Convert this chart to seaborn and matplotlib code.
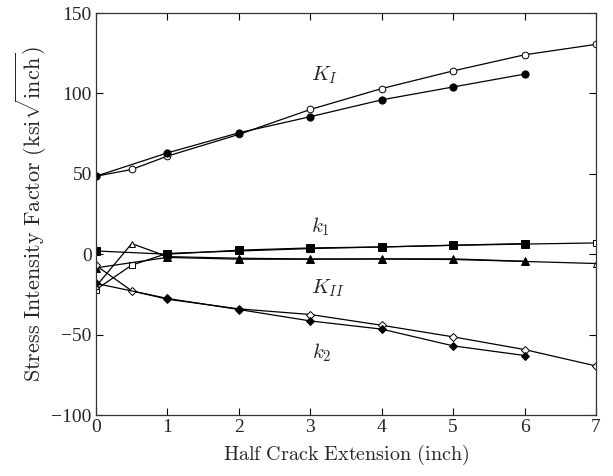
import matplotlib
matplotlib.use("Agg")
import matplotlib.pyplot as plt
import seaborn as sns
import pandas as pd

# Half crack extension (inch)
x_open = [0, 0.5, 1, 2, 3, 4, 5, 6, 7]
x_filled = [0, 1, 2, 3, 4, 5, 6]

# Stress intensity factors (ksi*sqrt(inch))
KI_open = [48.5, 52.7, 61, 74.5, 90, 103, 114, 124, 130.5]
KI_filled = [48.5, 63, 75.5, 85.5, 96, 104, 112]
k1_open = [-22, -6.8, 0.5, 2, 3.5, 4.5, 5.5, 6.3, 7]
k1_filled = [2, 0, 2.5, 3.9, 4.5, 5.6, 6.6]
KII_open = [-20, 6.6, -1.5, -2.5, -3, -3, -3.3, -4.5, -5.8]
KII_filled = [-8.5, -2, -3.1, -3.1, -2.9, -2.9, -4.4]
k2_open = [-7, -22.8, -28, -34, -37.5, -44.2, -51.4, -59.3, -69.5]
k2_filled = [-18.2, -27.5, -34.4, -41.5, -46.6, -57, -63]

series_labels = [r"$K_I$", r"$k_1$", r"$K_{II}$", r"$k_2$"]
label_x = [3.2, 3.14, 3.25, 3.16]
label_y = [111, 17, -21, -61]

x_ticks = [0, 1, 2, 3, 4, 5, 6, 7]
y_ticks = [-100, -50, 0, 50, 100, 150]

sns.set_style("ticks")
plt.rcParams["mathtext.fontset"] = "cm"
plt.rcParams["font.family"] = ["Liberation Serif", "DejaVu Serif"]

fig = plt.figure(figsize=(6.13, 4.76), dpi=100)
ax = fig.add_axes([96 / 613, 1 - 415 / 476, 500 / 613, 402 / 476])

groups = [
    (KI_open, "o", "open"), (KI_filled, "o", "filled"),
    (k1_open, "s", "open"), (k1_filled, "s", "filled"),
    (KII_open, "^", "open"), (KII_filled, "^", "filled"),
    (k2_open, "D", "open"), (k2_filled, "D", "filled"),
]

for vals, mk, fill in groups:
    xs = x_open if fill == "open" else x_filled
    df = pd.DataFrame({"x": xs, "y": vals})
    size = 4.8 if mk != "D" else 4.0
    sns.lineplot(
        data=df, x="x", y="y", ax=ax, color="black", linewidth=0.9,
        marker=mk, markersize=size if fill == "open" else size + 0.4,
        markerfacecolor="white" if fill == "open" else "black",
        markeredgecolor="black", markeredgewidth=0.7,
        estimator=None, sort=False,
    )

for t, lx, ly in zip(series_labels, label_x, label_y):
    ax.text(lx, ly, t, fontsize=15, ha="center", va="center")

ax.set_xlim(0, 7)
ax.set_ylim(-100, 150)
ax.set_xticks(x_ticks)
ax.set_yticks(y_ticks)
ax.set_xticklabels([str(v) for v in x_ticks])
ax.set_yticklabels([str(v).replace("-", "\u2212") for v in y_ticks])
ax.tick_params(direction="in", length=5, width=0.8, top=True, right=True,
               labelsize=14, pad=3, color="black")
for s in ax.spines.values():
    s.set_linewidth(0.9)
    s.set_color("#333333")

ax.set_xlabel(r"$\mathrm{Half\ Crack\ Extension\ (inch)}$", fontsize=14.5, labelpad=5)
ax.set_ylabel(r"$\mathrm{Stress\ Intensity\ Factor\ (ksi}\sqrt{\mathrm{inch}}\mathrm{)}$",
              fontsize=16, labelpad=2)

fig.savefig("out.png", dpi=100)
